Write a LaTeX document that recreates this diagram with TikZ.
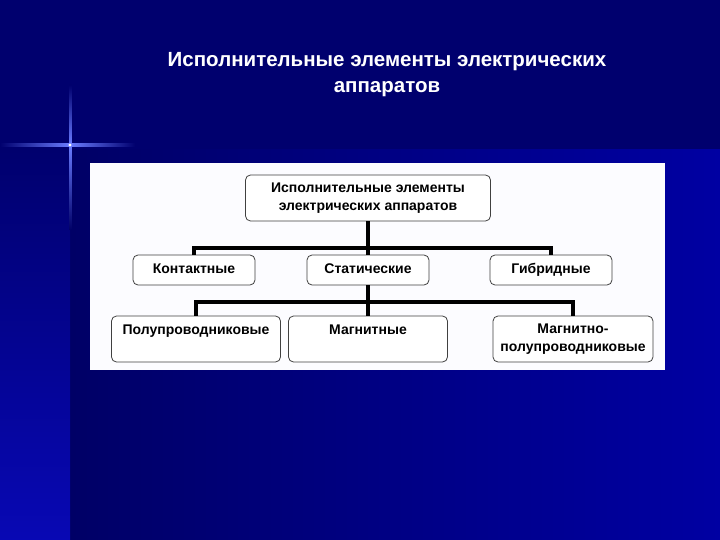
\documentclass[tikz,border=0pt]{standalone}
\usepackage{fontspec}
\setmainfont{Liberation Sans}
\usetikzlibrary{positioning, calc, backgrounds}
\definecolor{SlideNavy}{HTML}{00006E}
\definecolor{SlideDeep}{HTML}{000066}
\definecolor{SlideBlue}{HTML}{0000A2}
\definecolor{SlideBright}{HTML}{0808B4}
\definecolor{StarGlow}{HTML}{6A7CFF}
\tikzset{
    % Box styles - rounded corners
    blockbox/.style={
        rectangle,
        rounded corners=5pt,
        draw=black!75,
        fill=white,
        line width=0.8pt,
        inner sep=0pt,
        align=center,
        font=\bfseries\fontsize{14}{18}\selectfont
    },
    midbox/.style={
        blockbox,
        minimum width=122,
        minimum height=30,
        text height=10pt,
        text depth=3pt
    },
    % Connector style - heavy black bus lines
    busline/.style={
        line width=3.2pt,
        draw=black
    }
}

\begin{document}
\begin{tikzpicture}[x=1pt, y=-1pt]
    \useasboundingbox (0,0) rectangle (720,540);
    % background
    \fill[SlideNavy] (0,0) rectangle (720,540);
    \shade[left color=SlideDeep, right color=SlideBlue] (70,150) rectangle (720,540);
    \shade[top color=SlideNavy, bottom color=SlideBright] (0,150) rectangle (70,540);
    % star
    \shade[left color=SlideNavy, right color=StarGlow] (0,144) rectangle (70,146.5);
    \shade[left color=StarGlow, right color=SlideNavy] (70,144) rectangle (135,146.5);
    \shade[top color=SlideNavy, bottom color=StarGlow] (69,85) rectangle (71.5,145);
    \shade[top color=StarGlow, bottom color=SlideDeep] (69,145) rectangle (71.5,230);
    \fill[white] (70,145) circle (1.6);

    % title
    \node[text=white, font=\bfseries\fontsize{20.5}{26}\selectfont, align=center] (title) at (387,75)
        {Исполнительные элементы электрических\\аппаратов};

    % panel
    \fill[white!99!blue] (90,163) rectangle (665,370);

    \node[blockbox, minimum width=245, minimum height=46] (root) at (368,198)
        {Исполнительные элементы\\электрических аппаратов};

    \node[midbox] (kont) at (194,270) {Контактные};
    \node[midbox] (stat) at (368,270) {Статические};
    \node[midbox] (gibr) at (551,270) {Гибридные};

    \node[blockbox, minimum width=169, minimum height=46] (semi) at (196,339) {Полупроводниковые\\\mbox{}};
    \node[blockbox, minimum width=159, minimum height=46] (magn) at (368,339) {Магнитные\\\mbox{}};
    \node[blockbox, minimum width=160, minimum height=46] (mgsemi) at (573,339) {Магнитно-\\полупроводниковые};

    \coordinate (busA) at (368,248);
    \coordinate (busB) at (368,302);

    \draw[busline] (root) -- (stat);
    \draw[busline] (kont.north) |- (busA) -| (gibr.north);
    \draw[busline] (stat) -- (magn);
    \draw[busline] (semi.north) |- (busB) -| (mgsemi.north);
\end{tikzpicture}
\end{document}
